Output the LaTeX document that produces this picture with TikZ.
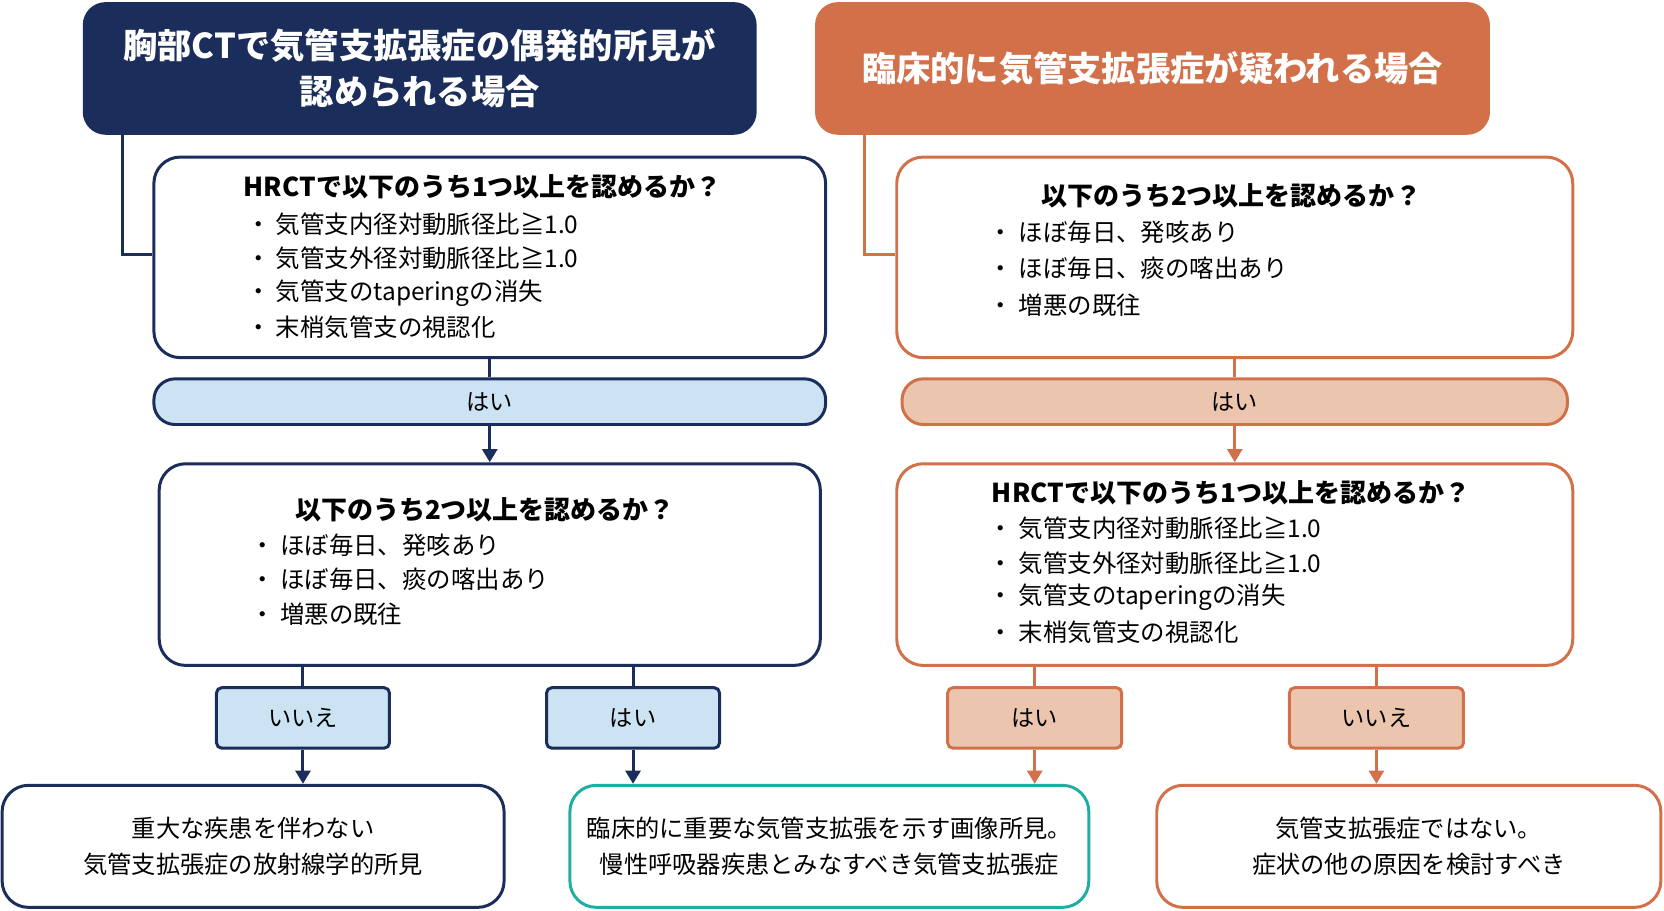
\documentclass[tikz,border=0pt]{standalone}
\usepackage{fontspec}
\setmainfont{Noto Sans CJK JP}
\usetikzlibrary{arrows.meta}

\definecolor{navy}{HTML}{1B2D5B}
\definecolor{rust}{HTML}{D2704A}
\definecolor{skyfill}{HTML}{CCE3F3}
\definecolor{peachfill}{HTML}{EBC5AE}
\definecolor{teal}{HTML}{1FAFA0}

\tikzset{
    head/.style={rounded corners=13pt, inner sep=0pt},
    box/.style={draw, line width=1.7pt, rounded corners=15pt, fill=white, inner sep=0pt},
    pill/.style={draw, line width=1.7pt, rounded corners=12pt, inner sep=0pt},
    tag/.style={draw, line width=1.7pt, rounded corners=3pt, inner sep=0pt},
    ttl/.style={font=\fontsize{14.8}{18}\selectfont\bfseries},
    itm/.style={anchor=west, font=\fontsize{13.9}{17}\selectfont},
    lbl/.style={font=\fontsize{13.2}{16}\selectfont},
    res/.style={align=center, font=\fontsize{13.8}{20.5}\selectfont},
    link/.style={line width=1.7pt},
    arr/.style={line width=1.7pt, -{Triangle[length=7.5pt, width=8.5pt]}},
}

\begin{document}
\begin{tikzpicture}[x=0.02122cm, y=-0.02122cm]
        \useasboundingbox (0, 0) rectangle (1568, 857.5);

        % headers
        \node [head, fill=navy, minimum width=635*0.02122cm, minimum height=125*0.02122cm] (hl) at (395.5, 64.5) {};
        \node [text=white, align=center, font=\fontsize{19.5}{26}\selectfont\bfseries] (hlt) at (hl) {胸部CTで気管支拡張症の偶発的所見が\\認められる場合};
        \node [head, fill=rust, minimum width=636*0.02122cm, minimum height=125*0.02122cm] (hr) at (1086, 64.5) {};
        \node [text=white, font=\fontsize{19.5}{24}\selectfont\bfseries] (hrt) at (hr) {臨床的に気管支拡張症が疑われる場合};

        % left column
        \node [box, draw=navy, minimum width=633*0.02122cm, minimum height=189*0.02122cm] (l1) at (461.5, 242.5) {};
        \node [ttl] (l1t) at (455, 176) {HRCTで以下のうち1つ以上を認めるか？};
        \node [itm] (l1a) at (226, 211) {・ 気管支内径対動脈径比≧1.0};
        \node [itm] (l1b) at (226, 243) {・ 気管支外径対動脈径比≧1.0};
        \node [itm] (l1c) at (226, 276) {・ 気管支のtaperingの消失};
        \node [itm] (l1d) at (226, 308) {・ 末梢気管支の視認化};

        \node [pill, draw=navy, fill=skyfill, minimum width=633*0.02122cm, minimum height=43*0.02122cm] (lp) at (461.5, 378.5) {};
        \node [lbl] (lpt) at (lp) {はい};

        \node [box, draw=navy, minimum width=623*0.02122cm, minimum height=190*0.02122cm] (l2) at (461.5, 532) {};
        \node [ttl] (l2t) at (457, 480) {以下のうち2つ以上を認めるか？};
        \node [itm] (l2a) at (230, 514) {・ ほぼ毎日、発咳あり};
        \node [itm] (l2b) at (230, 546) {・ ほぼ毎日、痰の喀出あり};
        \node [itm] (l2c) at (230, 579) {・ 増悪の既往};

        \node [tag, draw=navy, fill=skyfill, minimum width=163*0.02122cm, minimum height=57*0.02122cm] (ln) at (285.5, 676.5) {};
        \node [lbl] (lnt) at (ln) {いいえ};
        \node [tag, draw=navy, fill=skyfill, minimum width=163*0.02122cm, minimum height=57*0.02122cm] (ly) at (596.5, 676.5) {};
        \node [lbl] (lyt) at (ly) {はい};

        % right column
        \node [box, draw=rust, minimum width=637*0.02122cm, minimum height=189*0.02122cm] (r1) at (1163.5, 242.5) {};
        \node [ttl] (r1t) at (1160, 184) {以下のうち2つ以上を認めるか？};
        \node [itm] (r1a) at (926, 219) {・ ほぼ毎日、発咳あり};
        \node [itm] (r1b) at (926, 253) {・ ほぼ毎日、痰の喀出あり};
        \node [itm] (r1c) at (926, 288) {・ 増悪の既往};

        \node [pill, draw=rust, fill=peachfill, minimum width=627*0.02122cm, minimum height=43*0.02122cm] (rp) at (1163.5, 378.5) {};
        \node [lbl] (rpt) at (rp) {はい};

        \node [box, draw=rust, minimum width=637*0.02122cm, minimum height=190*0.02122cm] (r2) at (1163.5, 532) {};
        \node [ttl] (r2t) at (1160, 464) {HRCTで以下のうち1つ以上を認めるか？};
        \node [itm] (r2a) at (926, 498) {・ 気管支内径対動脈径比≧1.0};
        \node [itm] (r2b) at (926, 531) {・ 気管支外径対動脈径比≧1.0};
        \node [itm] (r2c) at (926, 563) {・ 気管支のtaperingの消失};
        \node [itm] (r2d) at (926, 596) {・ 末梢気管支の視認化};

        \node [tag, draw=rust, fill=peachfill, minimum width=164*0.02122cm, minimum height=57*0.02122cm] (ry) at (975, 676.5) {};
        \node [lbl] (ryt) at (ry) {はい};
        \node [tag, draw=rust, fill=peachfill, minimum width=164*0.02122cm, minimum height=57*0.02122cm] (rn) at (1297, 676.5) {};
        \node [lbl] (rnt) at (rn) {いいえ};

        % outcomes
        \node [box, draw=navy, minimum width=473*0.02122cm, minimum height=115*0.02122cm] (o1) at (238.5, 797.5) {};
        \node [res] (o1t) at (o1) {重大な疾患を伴わない\\気管支拡張症の放射線学的所見};
        \node [box, draw=teal, minimum width=489*0.02122cm, minimum height=115*0.02122cm] (o2) at (781.5, 797.5) {};
        \node [res] (o2t) at (o2) {臨床的に重要な気管支拡張を示す画像所見。\\慢性呼吸器疾患とみなすべき気管支拡張症};
        \node [box, draw=rust, minimum width=475*0.02122cm, minimum height=115*0.02122cm] (o3) at (1327.5, 797.5) {};
        \node [res] (o3t) at (o3) {気管支拡張症ではない。\\症状の他の原因を検討すべき};

        % connectors
        \coordinate (hlk) at (115, 127);
        \coordinate (hrk) at (815, 127);
        \draw [link, navy] (hlk) |- (l1.west |- 0, 240);
        \draw [link, rust] (hrk) |- (r1.west |- 0, 240);
        \draw [link, navy] (l1) -- (lp);
        \draw [arr, navy] (lp) -- (l2);
        \draw [link, rust] (r1) -- (rp);
        \draw [arr, rust] (rp) -- (r2);
        \draw [link, navy] (l2.south -| ln) -- (ln);
        \draw [link, navy] (l2.south -| ly) -- (ly);
        \draw [link, rust] (r2.south -| ry) -- (ry);
        \draw [link, rust] (r2.south -| rn) -- (rn);
        \draw [arr, navy] (ln) -- (ln |- o1.north);
        \draw [arr, navy] (ly) -- (ly |- o2.north);
        \draw [arr, rust] (ry) -- (ry |- o2.north);
        \draw [arr, rust] (rn) -- (rn |- o3.north);

    \end{tikzpicture}
\end{document}
